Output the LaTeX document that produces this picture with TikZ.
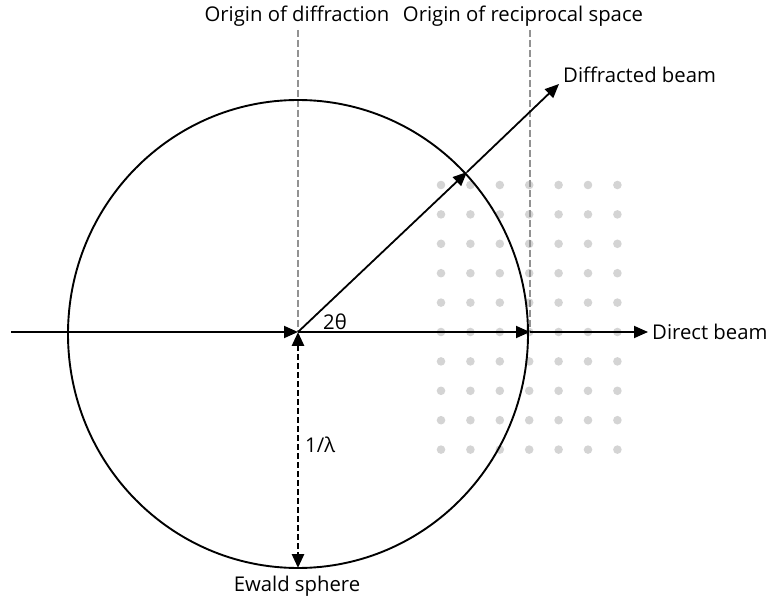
\documentclass[tikz,border=0pt]{standalone}
\usepackage{fontspec}
\setmainfont{Open Sans}
\usetikzlibrary{arrows.meta}
\definecolor{dotgray}{HTML}{D4D4D4}
\definecolor{guidegray}{HTML}{929292}
\begin{document}
\begin{tikzpicture}[x=1pt,y=-1pt,
  beam/.style={line width=1.8pt,-{Triangle[length=14pt,width=12pt]}},
  guide/.style={guidegray,line width=2.5pt,dash pattern=on 7pt off 3pt},
  radius line/.style={line width=2.8pt,dash pattern=on 6pt off 3pt,{Triangle[length=14pt,width=12pt]}-{Triangle[length=14pt,width=12pt]}},
  lbl/.style={font=\fontsize{20.3}{24}\selectfont,inner sep=0pt}]
\useasboundingbox (0,0) rectangle (768,601);
% reciprocal lattice points
\foreach \i in {0,...,6}{
  \foreach \j in {0,...,9}{
    \fill[dotgray] ({441+29.4*\i},{185+29.4*\j}) circle (4.3pt);
  }
}
\coordinate (O) at (298,332);
\coordinate (R) at (530,332);
\coordinate (B) at (298,568);
\coordinate (S) at (11,332);
\coordinate (E) at (648,332);
\coordinate (D1) at (467,172);
\coordinate (D2) at (559,84);
\coordinate (TL) at (298,30);
\coordinate (TR) at (530,30);
% guide lines
\draw[guide] (TL) -- (O);
\draw[guide] (TR) -- (R);
% Ewald sphere
\draw[line width=1.9pt] (298,334) ellipse [x radius=230, y radius=234];
% direct beam
\draw[beam] (S) -- (O);
\draw[beam] (O) -- (R);
\draw[beam] (R) -- (E);
% diffracted beam
\draw[beam] (O) -- (D1);
\draw[beam] (D1) -- (D2);
% radius
\draw[radius line] (O) -- (B);
% labels
\node[lbl] (lod) at (297,16) {Origin of diffraction};
\node[lbl] (lor) at (523,16) {Origin of reciprocal space};
\node[lbl,anchor=west] (ldb) at (563,75) {Diffracted beam};
\node[lbl,anchor=west] (ldir) at (652,332) {Direct beam};
\node[lbl,anchor=west] (lth) at (323,322) {2θ};
\node[lbl,anchor=west] (llam) at (305,445) {1/λ};
\node[lbl] (lew) at (297,586) {Ewald sphere};
\end{tikzpicture}
\end{document}
